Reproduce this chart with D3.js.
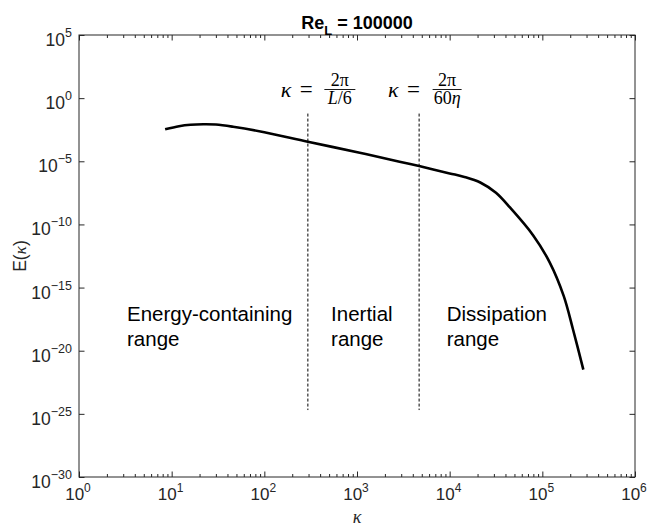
<!DOCTYPE html>
<html>
<head>
<meta charset="utf-8">
<script src="https://cdn.jsdelivr.net/npm/d3@7"></script>
<style>
  body { margin: 0; background: #fff; }
</style>
</head>
<body>
<svg id="spectrum" width="649" height="531"></svg>
<script>
// model energy spectrum E(kappa) at Re_L = 1e5
const kappa = [8.5, 12, 16, 22, 30, 46, 100, 295, 1070, 2880, 4680, 10000, 14100, 21400, 31600, 44700, 79400, 120000, 170000, 214000, 277000];
const energy = [3.4e-3, 6.0e-3, 7.8e-3, 8.5e-3, 8.1e-3, 5.4e-3, 2.0e-3, 3.5e-4, 4.8e-5, 9.3e-6, 4.2e-6, 1.1e-6, 6.0e-7, 2.1e-7, 3.2e-8, 2.2e-9, 1.4e-11, 1.0e-13, 2.2e-16, 5.0e-19, 3.2e-22];

// range boundaries: 2pi/(L/6) and 2pi/(60 eta)
const bounds = [295, 4680];
const boundE = [0.06, 2e-25];

const xTicks = [1e0, 1e1, 1e2, 1e3, 1e4, 1e5, 1e6];
const yTicks = [1e5, 1e0, 1e-5, 1e-10, 1e-15, 1e-20, 1e-25, 1e-30];

const rangeNames = [["Energy-containing", "range"], ["Inertial", "range"], ["Dissipation", "range"]];
const rangeK = [3.3, 525, 9300];
const rangeE = 2.3e-18;

(function () {
  const svg = d3.select("#spectrum");
  const ink = "#262626";
  const sans = "'Liberation Sans', Arial, sans-serif";
  const serif = "'Liberation Serif', 'DejaVu Serif', serif";

  const left = 79, right = 635, top = 35, bottom = 477;

  const x = d3.scaleLog().domain([1e0, 1e6]).range([left, right]);
  const y = d3.scaleLog().domain([1e-30, 1e5]).range([bottom, top]);

  // minor x ticks 2..9 per decade
  const minor = [];
  for (let p = 0; p < 6; p++) for (let m = 2; m < 10; m++) minor.push(m * Math.pow(10, p));

  const g = svg.append("g");

  // box
  g.append("rect")
    .attr("x", left).attr("y", top)
    .attr("width", right - left).attr("height", bottom - top)
    .attr("fill", "none").attr("stroke", ink).attr("stroke-width", 1);

  // inward ticks on all four sides
  const tickSets = [
    { axis: d3.axisBottom(x), pos: `translate(0,${bottom})`, vals: minor, size: -3 },
    { axis: d3.axisTop(x), pos: `translate(0,${top})`, vals: minor, size: -3 },
    { axis: d3.axisBottom(x), pos: `translate(0,${bottom})`, vals: xTicks, size: -5.5 },
    { axis: d3.axisTop(x), pos: `translate(0,${top})`, vals: xTicks, size: -5.5 },
    { axis: d3.axisLeft(y), pos: `translate(${left},0)`, vals: yTicks, size: -5.5 },
    { axis: d3.axisRight(y), pos: `translate(${right},0)`, vals: yTicks, size: -5.5 }
  ];
  tickSets.forEach((t) => {
    const a = g.append("g")
      .attr("transform", t.pos)
      .call(t.axis.tickValues(t.vals).tickSizeInner(t.size).tickSizeOuter(0).tickFormat(""));
    a.select(".domain").remove();
    a.selectAll("line").attr("stroke", ink).attr("stroke-width", 1);
  });

  const exp = (v) => String(Math.round(Math.log10(v))).replace("-", "\u2212");

  // x tick labels 10^n
  const xl = g.append("g").selectAll(null).data(xTicks).enter()
    .append("text")
    .attr("x", (d) => x(d) - 1)
    .attr("y", bottom + 23)
    .attr("text-anchor", "middle")
    .style("font-family", sans)
    .style("font-size", "17px")
    .attr("fill", ink);
  xl.append("tspan").text("10");
  xl.append("tspan").attr("dy", -8).style("font-size", "12px").text((d) => exp(d));

  // y tick labels 10^n
  const yl = g.append("g").selectAll(null).data(yTicks).enter()
    .append("text")
    .attr("x", left - 7)
    .attr("y", (d) => y(d) + 11)
    .attr("text-anchor", "end")
    .style("font-family", sans)
    .style("font-size", "17.5px")
    .attr("fill", ink);
  yl.append("tspan").text("10");
  yl.append("tspan").attr("dy", -9).style("font-size", "12.5px").text((d) => exp(d));

  // axis labels
  g.append("text")
    .attr("x", (left + right) / 2)
    .attr("y", bottom + 46)
    .attr("text-anchor", "middle")
    .style("font-family", serif)
    .style("font-style", "italic")
    .style("font-size", "18px")
    .attr("fill", ink)
    .text("κ");

  const ylab = g.append("text")
    .attr("transform", `translate(26,${(top + bottom) / 2}) rotate(-90)`)
    .attr("text-anchor", "middle")
    .style("font-family", sans)
    .style("font-size", "17.5px")
    .attr("fill", ink);
  ylab.append("tspan").text("E(");
  ylab.append("tspan").style("font-family", serif).style("font-style", "italic").text("κ");
  ylab.append("tspan").text(")");

  // title
  const title = g.append("text")
    .attr("x", (left + right) / 2)
    .attr("y", 29)
    .attr("text-anchor", "middle")
    .style("font-family", sans)
    .style("font-size", "18px")
    .style("font-weight", "bold")
    .attr("fill", "#000");
  title.append("tspan").text("Re");
  title.append("tspan").attr("dy", 6).style("font-size", "13px").text("L");
  title.append("tspan").attr("dy", -6).text(" = 100000");

  // dashed boundaries
  g.selectAll(null).data(bounds).enter()
    .append("line")
    .attr("x1", (d) => x(d)).attr("x2", (d) => x(d))
    .attr("y1", y(boundE[0])).attr("y2", y(boundE[1]))
    .attr("stroke", "#000")
    .attr("stroke-width", 1)
    .attr("stroke-dasharray", "3,2");

  // kappa = 2pi / (...) labels above each boundary
  bounds.forEach((b, i) => {
    const x0 = x(b) - (i === 0 ? 27 : 31);
    const base = 97;
    const m = g.append("g").style("font-family", serif).attr("fill", "#000");
    m.append("text").attr("x", x0).attr("y", base)
      .style("font-style", "italic").style("font-size", "22px").text("κ");
    m.append("text").attr("x", x0 + 19).attr("y", base)
      .style("font-size", "23px").text("=");
    const cx = x0 + 59;
    const w = i === 0 ? 31 : 29;
    m.append("line").attr("x1", cx - w / 2).attr("x2", cx + w / 2)
      .attr("y1", 89.5).attr("y2", 89.5).attr("stroke", "#000").attr("stroke-width", 0.9);
    m.append("text").attr("x", cx).attr("y", 86).attr("text-anchor", "middle")
      .style("font-size", "18px").text("2π");
    const den = m.append("text").attr("x", cx).attr("y", 104).attr("text-anchor", "middle")
      .style("font-size", "18px");
    if (i === 0) {
      den.append("tspan").style("font-style", "italic").text("L");
      den.append("tspan").text("/6");
    } else {
      den.append("tspan").text("60");
      den.append("tspan").style("font-style", "italic").text("η");
    }
  });

  // range names
  rangeNames.forEach((lines, i) => {
    const t = g.append("text")
      .attr("x", x(rangeK[i]))
      .attr("y", y(rangeE))
      .style("font-family", sans)
      .style("font-size", "20.5px")
      .attr("fill", "#000");
    lines.forEach((s, j) => {
      t.append("tspan").attr("x", x(rangeK[i])).attr("dy", j === 0 ? 0 : 25).text(s);
    });
  });

  // spectrum curve
  const line = d3.line()
    .x((d, i) => x(kappa[i]))
    .y((d) => y(d))
    .curve(d3.curveCatmullRom.alpha(0.5));

  g.append("path")
    .datum(energy)
    .attr("d", line)
    .attr("fill", "none")
    .attr("stroke", "#000")
    .attr("stroke-width", 2.6);
})();
</script>
</body>
</html>
